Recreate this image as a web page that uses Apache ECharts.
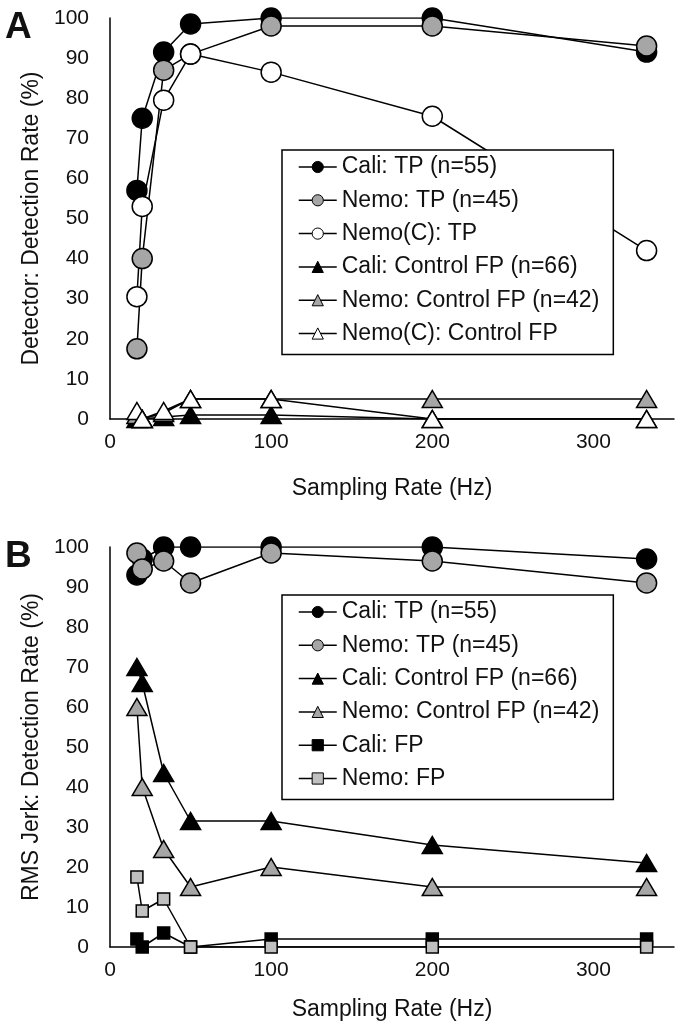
<!DOCTYPE html>
<html>
<head>
<meta charset="utf-8">
<script src="https://cdn.jsdelivr.net/npm/echarts@6/dist/echarts.min.js"></script>
<style>
  html, body { margin: 0; padding: 0; background: #fff; }
  #chart { width: 685px; height: 1028px; }
</style>
</head>
<body>
<div id="chart"></div>
<script>
// sampling rates (Hz)
const rates = [16.7, 20, 33.3, 50, 100, 200, 333];

// panel A: detector
const caliTP_A = [57, 75, 91.5, 98.5, 100, 100, 91.5];
const nemoTP_A = [17.5, 40, 87, 91, 98, 98, 93];
const nemoCTP_A = [30.5, 53, 79.5, 91, 86.5, 75.5, 42];
const caliCFP_A = [0, 0, 0.5, 1, 1, 0, 0];
const nemoCFP_A = [1, 0, 1.5, 5, 5, 5, 5];
const nemoCCFP_A = [2, 0, 2, 5, 5, 0, 0];

// panel B: RMS jerk
const caliTP_B = [93, 97, 100, 100, 100, 100, 97];
const nemoTP_B = [98.5, 94.5, 96.5, 91, 98.5, 96.5, 91];
const caliCFP_B = [70, 66, 43.5, 31.5, 31.5, 25.5, 21];
const nemoCFP_B = [60, 40, 24.5, 15, 20, 15, 15];
const caliFP_B = [2, 0, 3.5, 0, 2, 2, 2];
const nemoFP_B = [17.5, 9, 12, 0, 0, 0, 0];

const namesA = ['Cali: TP (n=55)', 'Nemo: TP (n=45)', 'Nemo(C): TP',
	'Cali: Control FP (n=66)', 'Nemo: Control FP (n=42)', 'Nemo(C): Control FP'];
const namesB = ['Cali: TP (n=55)', 'Nemo: TP (n=45)', 'Cali: Control FP (n=66)',
	'Nemo: Control FP (n=42)', 'Cali: FP', 'Nemo: FP'];

const FONT = 'Liberation Sans, Arial, sans-serif';
const BLACK = '#000', GRAY = '#a6a6a6', WHITE = '#fff';

function pts(vals) {
	return vals.map((v, i) => [rates[i], v]);
}

function mk(name, vals, idx, symbol, fill, size) {
	return {
		name: name,
		type: 'line',
		xAxisIndex: idx,
		yAxisIndex: idx,
		data: pts(vals),
		symbol: symbol,
		symbolSize: size,
		showAllSymbol: true,
		lineStyle: { color: BLACK, width: 1.5 },
		itemStyle: { color: fill, borderColor: BLACK, borderWidth: 1.5, opacity: 1 },
		emphasis: { disabled: true }
	};
}

function xAxis(idx, gap) {
	return {
		type: 'value',
		gridIndex: idx,
		min: 0,
		max: 350,
		interval: 100,
		name: 'Sampling Rate (Hz)',
		nameLocation: 'middle',
		nameGap: gap,
		nameTextStyle: { fontFamily: FONT, fontSize: 23, color: '#111' },
		axisLine: { lineStyle: { color: BLACK, width: 1.5 } },
		axisTick: { show: false },
		splitLine: { show: false },
		axisLabel: { showMaxLabel: false, fontFamily: FONT, fontSize: 21, color: '#111', margin: 13 }
	};
}

function yAxis(idx, title) {
	return {
		type: 'value',
		gridIndex: idx,
		min: 0,
		max: 100,
		interval: 10,
		name: title,
		nameLocation: 'middle',
		nameGap: 67,
		nameTextStyle: { fontFamily: FONT, fontSize: 23, color: '#111' },
		axisLine: { show: true, lineStyle: { color: BLACK, width: 1.5 } },
		axisTick: { show: false },
		splitLine: { show: false },
		axisLabel: { fontFamily: FONT, fontSize: 21, color: '#111', margin: 21 }
	};
}

function legend(top, names) {
	return {
		orient: 'vertical',
		left: 282,
		top: top,
		data: names,
		itemWidth: 38,
		itemHeight: 14,
		itemGap: 9.3,
		padding: [5, 14, 9, 16],
		borderColor: BLACK,
		borderWidth: 1.5,
		backgroundColor: WHITE,
		selectedMode: false,
		itemStyle: { borderColor: BLACK, borderWidth: 1 },
		lineStyle: { color: BLACK, width: 1.5 },
		textStyle: { fontFamily: FONT, fontSize: 23, lineHeight: 24, color: '#111' }
	};
}

const chart = echarts.init(document.getElementById('chart'), null, { renderer: 'canvas' });

chart.setOption({
	animation: false,
	backgroundColor: WHITE,
	title: [
		{ text: 'A', left: 5, top: 9, padding: 0, textStyle: { fontFamily: FONT, fontSize: 37, fontWeight: 'bold', color: '#111' } },
		{ text: 'B', left: 5, top: 538, padding: 0, textStyle: { fontFamily: FONT, fontSize: 37, fontWeight: 'bold', color: '#111' } }
	],
	grid: [
		{ left: 110, right: 11, top: 18, height: 401 },
		{ left: 110, right: 11, top: 547, height: 400 }
	],
	xAxis: [xAxis(0, 58), xAxis(1, 51)],
	yAxis: [yAxis(0, 'Detector: Detection Rate (%)'), yAxis(1, 'RMS Jerk: Detection Rate (%)')],
	legend: [legend(150, namesA), legend(595, namesB)],
	series: [
		mk(namesA[0], caliTP_A, 0, 'circle', BLACK, 20),
		mk(namesA[1], nemoTP_A, 0, 'circle', GRAY, 20),
		mk(namesA[2], nemoCTP_A, 0, 'circle', WHITE, 20),
		mk(namesA[3], caliCFP_A, 0, 'triangle', BLACK, [20, 17]),
		mk(namesA[4], nemoCFP_A, 0, 'triangle', GRAY, [20, 17]),
		mk(namesA[5], nemoCCFP_A, 0, 'triangle', WHITE, [20, 17]),

		mk(namesB[0], caliTP_B, 1, 'circle', BLACK, 20),
		mk(namesB[1], nemoTP_B, 1, 'circle', GRAY, 20),
		mk(namesB[2], caliCFP_B, 1, 'triangle', BLACK, [20, 17]),
		mk(namesB[3], nemoCFP_B, 1, 'triangle', GRAY, [20, 17]),
		mk(namesB[4], caliFP_B, 1, 'rect', BLACK, 12),
		mk(namesB[5], nemoFP_B, 1, 'rect', '#c0c0c0', 12)
	]
});
</script>
</body>
</html>
